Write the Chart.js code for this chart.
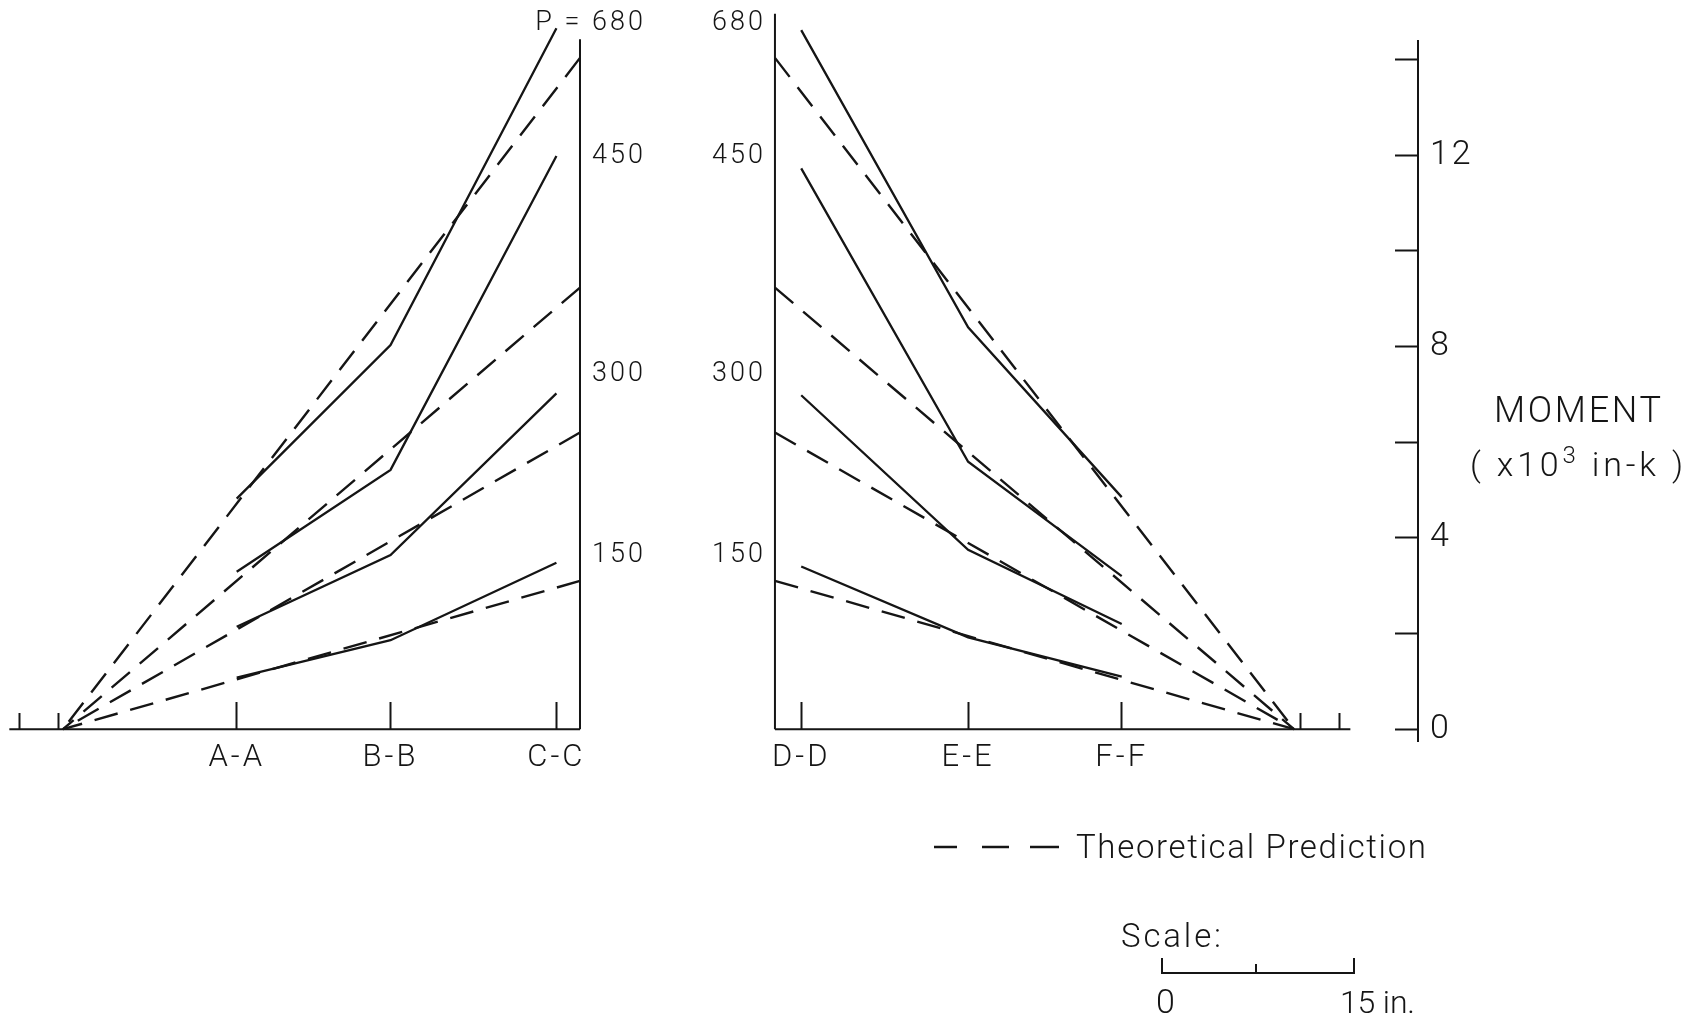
<!DOCTYPE html>
<html>
<head>
<meta charset="utf-8">
<title>Moment distribution along beam</title>
<script src="https://cdn.jsdelivr.net/npm/chart.js@4.4.1/dist/chart.umd.min.js"></script>
<style>
  html, body { margin: 0; padding: 0; background: #fff; }
  #wrap { position: relative; width: 1697px; height: 1023px; overflow: hidden; background: #fff; }
  #c { position: absolute; left: 0; top: 0; }
  #ov { position: absolute; left: 0; top: 0; pointer-events: none; }
  #ov text { font-family: Roboto, "DejaVu Sans", sans-serif; font-weight: 300; fill: #151515; }
</style>
</head>
<body>
<div id="wrap">
  <canvas id="c" width="1697" height="1023"></canvas>
  <svg id="ov" width="1697" height="1023" viewBox="0 0 1697 1023" xmlns="http://www.w3.org/2000/svg">
    <text x="1494" y="422" font-size="36" textLength="167" lengthAdjust="spacing">MOMENT</text>
    <text x="1470" y="476" font-size="34" textLength="213" lengthAdjust="spacing">( x10<tspan dy="-13" font-size="24">3</tspan><tspan dy="13"> in-k )</tspan></text>
    <g stroke="#151515" stroke-width="2.5" fill="none">
      <line x1="934" y1="847" x2="957" y2="847"/>
      <line x1="982" y1="847" x2="1009" y2="847"/>
      <line x1="1030" y1="847" x2="1059" y2="847"/>
      <path d="M1162,958 V973 H1354 V958 M1256,973 V964" stroke-width="2"/>
    </g>
    <text x="1076" y="858" font-size="33" textLength="350" lengthAdjust="spacing">Theoretical Prediction</text>
    <text x="1121" y="947" font-size="33" textLength="100" lengthAdjust="spacing">Scale:</text>
    <text x="1156" y="1013" font-size="34">0</text>
    <text x="1340" y="1013" font-size="32" textLength="75" lengthAdjust="spacing">15 in.</text>
  </svg>
</div>
<script>
// ---------------- DATA ----------------
// Positions along the beam, inches measured from the left support
const leftSections   = ['A-A', 'B-B', 'C-C'];
const leftSectionX   = [13.56, 25.57, 38.52];
const rightSections  = ['D-D', 'E-E', 'F-F'];
const rightSectionX  = [57.63, 70.66, 82.65];
const supportX       = [0, 96.1];
const loadPointX     = [40.36, 55.58];
const beamEndX       = [-4.19, 100.5];
const minorTickX     = [-3.43, -0.37, 96.6, 99.66];
const loadLineTop    = [14.42, 14.95];

// Measured moments (x10^3 in-k) at A-A, B-B, C-C | D-D, E-E, F-F
const measured680 = [4.82, 8.03, 14.65, 14.61, 8.40, 4.85];
const measured450 = [3.29, 5.42, 11.98, 11.72, 5.59, 3.20];
const measured300 = [2.14, 3.64, 7.02, 6.98, 3.75, 2.20];
const measured150 = [1.08, 1.86, 3.48, 3.40, 1.92, 1.10];

// Theoretical moment at the load points for P = 680, 450, 300, 150
const theoreticalPeak = [14.03, 9.23, 6.20, 3.10];

// Moment axis
const momentTicks  = [0, 2, 4, 6, 8, 10, 12, 14];
const momentLabels = ['0', '', '4', '', '8', '', '12', ''];

// Load labels beside the load-point lines (right edge of each label column)
const loadLabelsLeft  = ['P = 680', '450', '300', '150'];
const loadLabelsRight = ['680', '450', '300', '150'];
const loadLabelLevel  = [14.75, 11.98, 7.42, 3.64];
const loadLabelAnchorX = [45.51, 54.88];

// ---------------- CHART ----------------
const INK = '#151515';
const X_MIN = -4.918, X_MAX = 105.78;
const Y_MIN = -0.2466, Y_MAX = 14.383;
const FONT = 'Roboto, "DejaVu Sans", sans-serif';
Chart.defaults.font.family = FONT;
Chart.defaults.font.weight = '300';
Chart.defaults.color = INK;

const GAP = { x: 48, y: null };
const pts = (xs, ys) => xs.map((x, i) => ({ x, y: ys[i] }));

function measuredSet(vals) {
  return {
    data: [...pts(leftSectionX, vals.slice(0, 3)), GAP, ...pts(rightSectionX, vals.slice(3))],
    borderColor: INK, borderWidth: 2.3, pointRadius: 0, spanGaps: false, clip: false
  };
}
function theorySet(peak) {
  return {
    data: [{ x: loadPointX[0], y: peak }, { x: supportX[0], y: 0 }, GAP,
           { x: loadPointX[1], y: peak }, { x: supportX[1], y: 0 }],
    borderColor: INK, borderWidth: 2.4, borderDash: [24, 13], pointRadius: 0, spanGaps: false, clip: false
  };
}

const datasets = [
  { // beam base lines
    data: [{ x: beamEndX[0], y: 0 }, { x: loadPointX[0], y: 0 }, GAP, { x: loadPointX[1], y: 0 }, { x: beamEndX[1], y: 0 }],
    borderColor: INK, borderWidth: 2, pointRadius: 0, spanGaps: false, clip: false
  },
  { // load-point lines
    data: [{ x: loadPointX[0], y: 0 }, { x: loadPointX[0], y: loadLineTop[0] }, GAP,
           { x: loadPointX[1], y: 0 }, { x: loadPointX[1], y: loadLineTop[1] }],
    borderColor: INK, borderWidth: 2, pointRadius: 0, spanGaps: false, clip: false
  },
  ...theoreticalPeak.map(theorySet),
  measuredSet(measured680), measuredSet(measured450), measuredSet(measured300), measuredSet(measured150)
];

const sectionX = [...leftSectionX, ...rightSectionX];
const sectionLabels = [...leftSections, ...rightSections];

const spacing = { id: 'spacing', beforeDraw(chart) { chart.ctx.letterSpacing = '3px'; } };

new Chart(document.getElementById('c'), {
  type: 'line',
  data: { datasets },
  plugins: [spacing],
  options: {
    responsive: false, animation: false, devicePixelRatio: 1,
    layout: { padding: { left: 0, right: 0, top: 41, bottom: 282 } },
    plugins: { legend: { display: false }, tooltip: { enabled: false } },
    elements: { point: { radius: 0 }, line: { tension: 0 } },
    scales: {
      x: {
        type: 'linear', axis: 'x', min: X_MIN, max: X_MAX, position: { y: 0 },
        border: { display: false },
        grid: { display: true, drawOnChartArea: false, drawTicks: true, tickLength: -27, tickWidth: 2, tickColor: INK },
        ticks: { padding: 37, autoSkip: false, maxRotation: 0, font: { size: 31, weight: '300' }, color: INK,
                 callback: (v, i) => sectionLabels[i] },
        afterBuildTicks: s => { s.ticks = sectionX.map(v => ({ value: v })); },
        afterFit: s => { s.paddingLeft = 0; s.paddingRight = 0; }
      },
      x2: {
        type: 'linear', axis: 'x', min: X_MIN, max: X_MAX, position: { y: 0 },
        border: { display: false },
        grid: { display: true, drawOnChartArea: false, drawTicks: true, tickLength: -16, tickWidth: 2, tickColor: INK },
        ticks: { display: false, autoSkip: false },
        afterBuildTicks: s => { s.ticks = minorTickX.map(v => ({ value: v })); },
        afterFit: s => { s.paddingLeft = 0; s.paddingRight = 0; }
      },
      y: {
        type: 'linear', axis: 'y', position: 'right', min: Y_MIN, max: Y_MAX,
        border: { display: true, width: 2, color: INK },
        grid: { display: true, drawOnChartArea: false, drawTicks: true, tickLength: -23, tickWidth: 2, tickColor: INK },
        ticks: { padding: 35, autoSkip: false, font: { size: 34, weight: '300' }, color: INK,
                 callback: (v, i) => momentLabels[i] },
        afterBuildTicks: s => { s.ticks = momentTicks.map(v => ({ value: v })); },
        afterFit: s => { s.width = 1697 - 1418; s.paddingTop = 0; s.paddingBottom = 0; }
      },
      yL: {
        type: 'linear', axis: 'y', position: { x: loadLabelAnchorX[0] }, min: Y_MIN, max: Y_MAX,
        border: { display: false }, grid: { display: false, drawTicks: false },
        ticks: { padding: 0, autoSkip: false, font: { size: 27, weight: '300' }, color: INK,
                 callback: (v, i) => loadLabelsLeft[i] },
        afterBuildTicks: s => { s.ticks = loadLabelLevel.map(v => ({ value: v })); },
        afterFit: s => { s.paddingTop = 0; s.paddingBottom = 0; }
      },
      yR: {
        type: 'linear', axis: 'y', position: { x: loadLabelAnchorX[1] }, min: Y_MIN, max: Y_MAX,
        border: { display: false }, grid: { display: false, drawTicks: false },
        ticks: { padding: 0, autoSkip: false, font: { size: 27, weight: '300' }, color: INK,
                 callback: (v, i) => loadLabelsRight[i] },
        afterBuildTicks: s => { s.ticks = loadLabelLevel.map(v => ({ value: v })); },
        afterFit: s => { s.paddingTop = 0; s.paddingBottom = 0; }
      }
    }
  }
});
</script>
</body>
</html>
